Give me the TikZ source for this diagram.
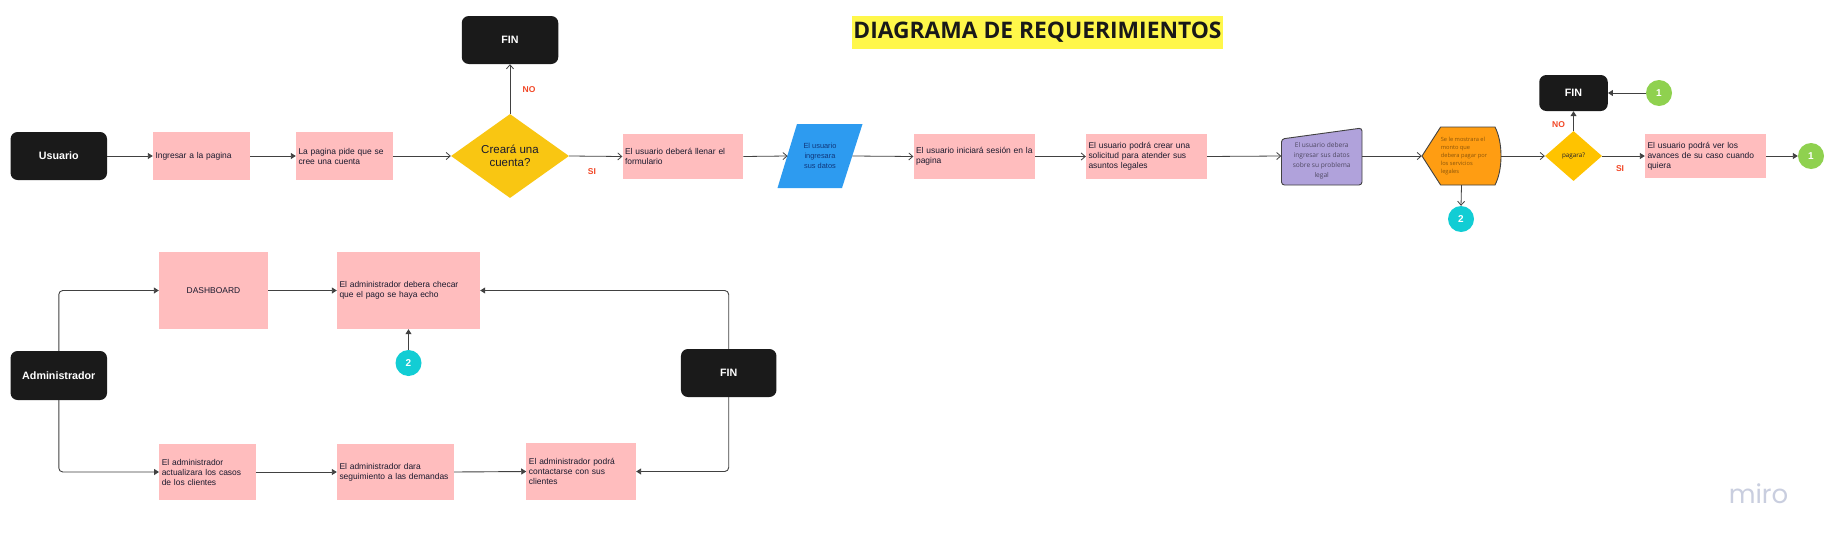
\documentclass[tikz,border=0pt]{standalone}
\usepackage{fontspec}
\setmainfont{Liberation Sans}
\newfontfamily\osans{Open Sans}
\newfontfamily\mirofont{Poppins}
\usetikzlibrary{shapes.geometric,arrows.meta}
\definecolor{pinkbox}{HTML}{FFBDBE}
\definecolor{darkbox}{HTML}{1A1A1A}
\definecolor{amber}{HTML}{F9C612}
\definecolor{gold}{HTML}{FFC300}
\definecolor{skyb}{HTML}{2D9BF0}
\definecolor{lilac}{HTML}{B0A2DB}
\definecolor{orangeb}{HTML}{FF9D12}
\definecolor{greenc}{HTML}{8FD14F}
\definecolor{cyanc}{HTML}{12CDD4}
\definecolor{titley}{HTML}{FFF74A}
\definecolor{redl}{HTML}{F24726}
\definecolor{linec}{HTML}{414141}
\definecolor{inkc}{HTML}{1A1A2E}
\definecolor{mirog}{HTML}{C9CEDF}
\tikzset{
  pinkb/.style={fill=pinkbox,text=inkc,inner xsep=2.5pt,inner ysep=0pt,align=left,anchor=center,font=\fontsize{8.45}{10}\selectfont},
  blackb/.style={fill=darkbox,text=white,rounded corners=7pt,align=center,font=\bfseries\fontsize{10.7}{12}\selectfont},
  ghost/.style={inner sep=0pt},
  circ/.style={circle,minimum size=26pt,inner sep=0pt,text=white,font=\bfseries\fontsize{10}{12}\selectfont},
  lbl/.style={text=redl,font=\bfseries\fontsize{8.5}{10}\selectfont,inner sep=0pt},
  openarr/.style={draw=linec,line width=0.8pt,-{Straight Barb[length=4pt,width=7pt]}},
  solidarr/.style={draw=linec,line width=0.9pt,-{Triangle[length=5pt,width=6pt]}},
}
\begin{document}
\begin{tikzpicture}[x=1pt,y=-1pt]
\useasboundingbox[fill=white] (0,0) rectangle (1830,546);

% title
\node[fill=titley,text=black!90,minimum width=371pt,minimum height=33pt,inner sep=0pt,font=\osans\bfseries\fontsize{22.8}{26}\selectfont] (title) at (1037.5,32.5) {DIAGRAMA DE REQUERIMIENTOS};

% top row
\node[blackb,minimum width=96.5pt,minimum height=48pt] (usuario) at (58.8,156) {Usuario};
\node[pinkb,minimum width=97pt,minimum height=48pt,text width=92pt] (ingresar) at (201.5,156) {Ingresar a la pagina};
\node[pinkb,minimum width=97pt,minimum height=48pt,text width=92pt] (pide) at (344.5,156) {La pagina pide que se\\cree una cuenta};
\node[diamond,fill=amber,minimum width=118pt,minimum height=84pt,inner sep=0pt,align=center,text=inkc,font=\fontsize{11.5}{13.3}\selectfont] (crear) at (510,156) {Creará una\\cuenta?};
\node[blackb,minimum width=96.5pt,minimum height=48pt] (fin1) at (510,40) {FIN};
\node[pinkb,minimum width=120.5pt,minimum height=45pt,text width=115.5pt] (form) at (682.8,156.5) {El usuario deberá llenar el\\formulario};

\fill[skyb] (797,124) -- (862.5,124) -- (842,188) -- (777.5,188) -- cycle;
\node[ghost,minimum width=64.5pt,minimum height=64pt,align=center,text=blue!30!skyb!50!black,font=\fontsize{7.4}{10}\selectfont] (datos) at (820,156) {El usuario\\ingresara\\sus datos};

\node[pinkb,minimum width=121.5pt,minimum height=45pt,text width=116.5pt] (sesion) at (974.3,156.5) {El usuario iniciará sesión en la\\pagina};
\node[pinkb,minimum width=121pt,minimum height=45pt,text width=116pt] (solic) at (1146.5,156.5) {El usuario podrá crear una\\solicitud para atender sus\\asuntos legales};

\draw[fill=lilac,draw=linec,line width=0.9pt,rounded corners=3pt] (1281.5,139) -- (1362,128) -- (1362,185) -- (1281.5,185) -- cycle;
\node[ghost,minimum width=80.5pt,minimum height=57pt] (legal) at (1321.7,156) {};
\node[ghost,align=center,text=black!55!lilac,font=\osans\fontsize{6.6}{10}\selectfont] (legaltxt) at (1321.7,161) {El usuario debera\\ingresar sus datos\\sobre su problema\\legal};

\draw[fill=orangeb,draw=linec,line width=0.9pt,line join=round] (1422,156) -- (1440.6,127) -- (1495,127) .. controls (1499,135) and (1501,145) .. (1501,156) .. controls (1501,167) and (1499,177) .. (1495,185) -- (1440.6,185) -- cycle;
\node[ghost,minimum width=79pt,minimum height=58pt] (monto) at (1461.5,156) {};
\node[ghost,anchor=west,align=left,text=black!45!orangeb,font=\osans\fontsize{5.7}{8.2}\selectfont] (montotxt) at (1440.6,156) {Se le mostrara el\\monto que\\debera pagar por\\los servicios\\legales};

\node[circ,fill=cyanc] (c2a) at (1461,219) {2};
\node[diamond,fill=gold,minimum width=57pt,minimum height=50pt,inner sep=0pt,text=inkc,font=\osans\fontsize{6.3}{8}\selectfont] (pagara) at (1573.5,156) {pagara?};
\node[blackb,minimum width=68.5pt,minimum height=36pt] (fin2) at (1573.5,93) {FIN};
\node[circ,fill=greenc] (c1a) at (1659,93) {1};
\node[pinkb,minimum width=121pt,minimum height=44pt,text width=116pt] (avances) at (1705.5,156) {El usuario podrá ver los\\avances de su caso cuando\\quiera};
\node[circ,fill=greenc] (c1b) at (1811,156) {1};

\node[lbl] (no1) at (529,90) {NO};
\node[lbl] (si1) at (592,172) {SI};
\node[lbl] (no2) at (1558.5,125) {NO};
\node[lbl] (si2) at (1620,169) {SI};

% top connectors
\draw[solidarr] (usuario.east) -- (ingresar.west);
\draw[solidarr] (ingresar.east) -- (pide.west);
\draw[openarr] (pide.east) -- (crear.west);
\draw[openarr] (crear.north) -- (fin1.south);
\draw[openarr] (crear.east) -- (form.west);
\draw[openarr] (form.east) -- (datos.west);
\draw[openarr] (datos.east) -- (sesion.west);
\draw[openarr] (sesion.east) -- (solic.west);
\draw[openarr] (solic.east) -- (legal.west);
\draw[openarr] (legal.east) -- (monto.west);
\draw[openarr] (monto.east) -- (pagara.west);
\draw[openarr] (monto.south) -- (c2a.north);
\draw[solidarr] (pagara.north) -- (fin2.south);
\draw[solidarr] (pagara.east) -- (avances.west);
\draw[solidarr] (avances.east) -- (c1b.west);
\draw[solidarr] (c1a.west) -- (fin2.east);

% lower block
\node[blackb,minimum width=96.5pt,minimum height=49pt] (admin) at (58.8,375.5) {Administrador};
\node[pinkb,minimum width=109pt,minimum height=77pt,align=center,text width=104pt] (dash) at (213.5,290.5) {DASHBOARD};
\node[pinkb,minimum width=143pt,minimum height=77pt,text width=138pt] (checar) at (408.5,290.5) {El administrador debera checar\\que el pago se haya echo};
\node[circ,fill=cyanc] (c2b) at (408.5,363) {2};
\node[blackb,minimum width=95.5pt,minimum height=48pt] (fin3) at (728.7,373) {FIN};
\node[pinkb,minimum width=96.5pt,minimum height=56pt,text width=91.5pt] (actual) at (207.5,472) {El administrador\\actualizara los casos\\de los clientes};
\node[pinkb,minimum width=117pt,minimum height=56pt,text width=112pt] (dara) at (395.5,472) {El administrador dara\\seguimiento a las demandas};
\node[pinkb,minimum width=109.5pt,minimum height=57pt,text width=104.5pt] (podra) at (581.2,471.5) {El administrador podrá\\contactarse con sus\\clientes};

\draw[solidarr,rounded corners=4pt] (admin.north) |- (dash.west);
\draw[solidarr,rounded corners=4pt] (admin.south) |- (actual.west);
\draw[solidarr] (dash.east) -- (checar.west);
\draw[solidarr] (c2b.north) -- (checar.south);
\draw[solidarr,rounded corners=4pt] (fin3.north) |- (checar.east);
\draw[solidarr,rounded corners=4pt] (fin3.south) |- (podra.east);
\draw[solidarr] (actual.east) -- (dara.west);
\draw[solidarr] (dara.east) -- (podra.west);

\node[inner sep=0pt,anchor=base,text=mirog,font=\mirofont\fontsize{26}{28}\selectfont] (miro) at (1758.5,503) {miro};
\end{tikzpicture}
\end{document}
